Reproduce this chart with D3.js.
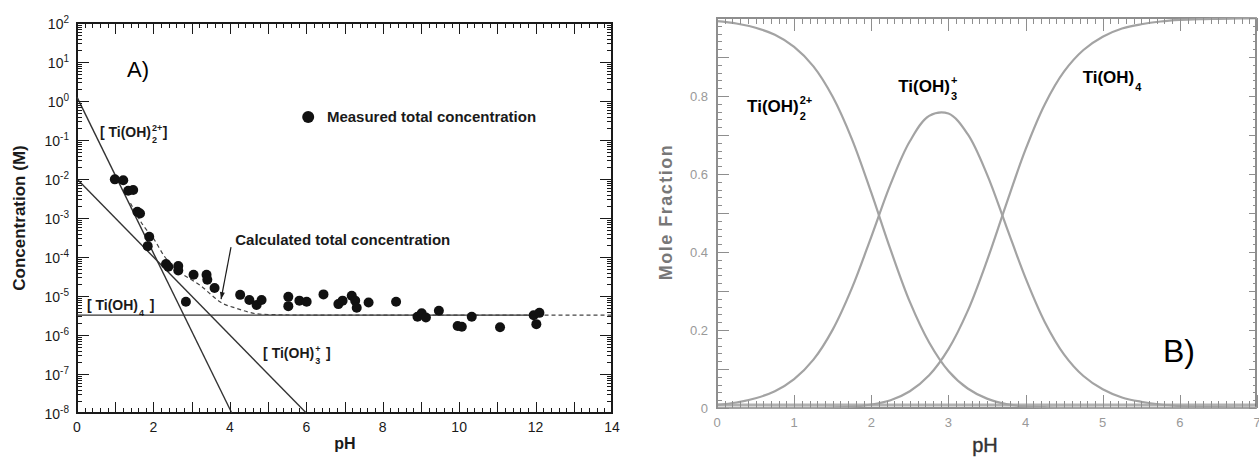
<!DOCTYPE html>
<html><head><meta charset="utf-8">
<script src="https://cdn.jsdelivr.net/npm/d3@7"></script>
<style>body{margin:0;background:#fff}svg{display:block;font-family:"Liberation Sans",Arial,sans-serif}</style>
</head><body><svg id="chart" width="1259" height="460"></svg>
<script>
// ---- panel A : measured total concentration (pH, M)
const measPh   = [0.99,1.21,1.34,1.47,1.58,1.65,1.89,1.85,2.33,2.39,2.65,2.65,3.05,3.39,3.41,3.60,2.85,4.27,4.51,4.70,4.83,
                  5.53,5.53,5.82,6.01,6.45,6.84,6.95,7.19,7.28,7.32,7.63,8.35,8.91,9.02,9.13,9.47,9.96,10.07,10.33,11.07,11.95,12.10,12.02];
const measConc = [9.8e-3,9.3e-3,5.0e-3,5.2e-3,1.45e-3,1.3e-3,3.3e-4,1.9e-4,6.6e-5,5.6e-5,5.9e-5,4.5e-5,3.5e-5,3.5e-5,2.6e-5,1.6e-5,7.1e-6,1.07e-5,7.9e-6,5.9e-6,7.9e-6,
                  9.5e-6,5.5e-6,7.6e-6,7.1e-6,1.1e-5,6.2e-6,7.6e-6,1.02e-5,7.6e-6,5.0e-6,6.8e-6,7.1e-6,2.95e-6,3.6e-6,2.8e-6,4.2e-6,1.7e-6,1.62e-6,2.95e-6,1.58e-6,3.2e-6,3.7e-6,1.9e-6];
// species lines
const ti2Ph = [0, 4.05], ti2Conc = [1.26, 1e-8];
const ti3Ph = [0, 6.0],  ti3Conc = [1e-2, 1e-8];
const ti4Ph = [0, 12.2], ti4Conc = [3.24e-6, 3.24e-6];
// calculated total concentration (dashed)
const calcPh   = [1.4, 1.74, 2.0, 2.3, 2.61, 3.0, 3.22, 3.5, 3.74, 4.18, 4.7, 5.0, 6.0, 14];
const calcConc = [2.4e-3, 6.3e-4, 3.0e-4, 1.0e-4, 4.7e-5, 2.6e-5, 1.9e-5, 1.1e-5, 7.1e-6, 4.8e-6, 3.5e-6, 3.35e-6, 3.24e-6, 3.24e-6];
const decadesA = d3.range(-8, 3);            // exponents 10^-8 .. 10^2
const xTicksA  = d3.range(0, 15, 2);

// ---- panel B : mole fractions vs pH
const phB = d3.range(0, 7.01, 0.25);
const fracTi2 = [0.992,0.986,0.975,0.957,0.926,0.876,0.798,0.689,0.552,0.406,0.272,0.168,0.095,0.050,0.024,0.010,0.004,0.002,0.0005,0.0002,0,0,0,0,0,0,0,0,0];
const fracTi3 = [0.008,0.014,0.025,0.043,0.074,0.124,0.201,0.308,0.439,0.574,0.684,0.749,0.755,0.702,0.599,0.466,0.333,0.220,0.137,0.082,0.048,0.027,0.016,0.009,0.005,0.003,0.002,0.001,0.0005];
const fracTi4 = [0,0,0,0.0001,0.0002,0.0004,0.0013,0.0035,0.009,0.020,0.043,0.084,0.151,0.249,0.378,0.523,0.663,0.779,0.863,0.918,0.952,0.973,0.984,0.991,0.995,0.997,0.998,0.999,0.9995];
const yTicksB = [0, 0.2, 0.4, 0.6, 0.8];
const xTicksB = d3.range(0, 8);

const svg = d3.select("#chart");
svg.append("rect").attr("width", 1259).attr("height", 460).attr("fill", "#fff");

// tick marks as one path: along a horizontal edge (len > 0 points down)
function ticksX(g, scale, values, y, len, color, w) {
  const d = values.map(v => `M${Math.round(scale(v)) + 0.5},${y}v${len}`).join("");
  g.append("path").attr("d", d).attr("fill", "none").attr("stroke", color)
    .attr("stroke-width", w || 1).attr("shape-rendering", "crispEdges");
}
// along a vertical edge (len > 0 points right)
function ticksY(g, scale, values, x, len, color, w) {
  const d = values.map(v => `M${x},${Math.round(scale(v)) + 0.5}h${len}`).join("");
  g.append("path").attr("d", d).attr("fill", "none").attr("stroke", color)
    .attr("stroke-width", w || 1).attr("shape-rendering", "crispEdges");
}

// species label with stacked sub/superscripts
function species(g, x, y, size, base, sub, sup, tail, color) {
  const t = g.append("text").attr("x", x).attr("y", y).attr("font-size", size)
    .attr("font-weight", "bold").attr("fill", color).text(base);
  const w = t.node().getComputedTextLength();
  const small = Math.round(size * 0.62);
  if (sub) g.append("text").attr("x", x + w + 1).attr("y", y + size * 0.45).attr("font-size", small)
    .attr("font-weight", "bold").attr("fill", color).text(sub);
  if (sup) g.append("text").attr("x", x + w + 1).attr("y", y - size * 0.45).attr("font-size", small)
    .attr("font-weight", "bold").attr("fill", color).text(sup);
  if (tail) g.append("text").attr("x", x + w + small * 1.3).attr("y", y).attr("font-size", size)
    .attr("font-weight", "bold").attr("fill", color).text(tail);
}

/////////////////////////// panel A ///////////////////////////
const xA = d3.scaleLinear().domain([0, 14]).range([77, 612]);
const yA = d3.scaleLog().domain([1e-8, 1e2]).range([413, 23]);
const A = svg.append("g");
const ink = "#1a1a1a";

A.append("rect").attr("x", 77).attr("y", 23).attr("width", 535).attr("height", 390)
  .attr("fill", "none").attr("stroke", ink).attr("stroke-width", 2);

// tick labels
A.append("g").selectAll("text").data(xTicksA).join("text")
  .attr("x", d => xA(d)).attr("y", 432).attr("text-anchor", "middle")
  .attr("font-size", 14).attr("fill", ink).text(d => d);
const yl = A.append("g").selectAll("text").data(decadesA).join("text")
  .attr("x", 69).attr("y", d => yA(Math.pow(10, d)) + 6).attr("text-anchor", "end")
  .attr("font-size", 14).attr("fill", ink);
yl.append("tspan").text("10");
yl.append("tspan").attr("dy", -6).attr("font-size", 10).text(d => d);

// axis titles
A.append("text").attr("transform", "translate(25,218) rotate(-90)").attr("text-anchor", "middle")
  .attr("font-size", 17).attr("font-weight", "bold").attr("fill", ink).text("Concentration (M)");
A.append("text").attr("x", 345).attr("y", 449).attr("text-anchor", "middle")
  .attr("font-size", 16).attr("font-weight", "bold").attr("fill", ink).text("pH");

// lines
const lineA = d3.line().x(d => xA(d[0])).y(d => yA(d[1]));
[[ti2Ph, ti2Conc], [ti3Ph, ti3Conc], [ti4Ph, ti4Conc]].forEach(([p, c]) => {
  A.append("path").attr("d", lineA(p.map((v, i) => [v, c[i]])))
    .attr("fill", "none").attr("stroke", "#333").attr("stroke-width", 1.4);
});
const calcLine = d3.line().curve(d3.curveMonotoneX).x(d => xA(d[0])).y(d => yA(d[1]));
A.append("path").attr("d", calcLine(calcPh.map((v, i) => [v, calcConc[i]])))
  .attr("fill", "none").attr("stroke", "#444").attr("stroke-width", 1.2).attr("stroke-dasharray", "4,3");

// measured points
A.append("g").selectAll("circle").data(measPh).join("circle")
  .attr("cx", d => xA(d)).attr("cy", (d, i) => yA(measConc[i])).attr("r", 5).attr("fill", "#111");

// legend
A.append("circle").attr("cx", xA(6.05)).attr("cy", yA(0.39)).attr("r", 6).attr("fill", "#111");
A.append("text").attr("x", xA(6.54)).attr("y", yA(0.29)).attr("font-size", 15).attr("font-weight", "bold")
  .attr("fill", ink).text("Measured total concentration");

// calculated label + pointer
A.append("text").attr("x", xA(4.14)).attr("y", yA(2.0e-4)).attr("font-size", 15).attr("font-weight", "bold")
  .attr("fill", ink).text("Calculated total concentration");
A.append("line").attr("x1", xA(4.03)).attr("y1", yA(1.8e-4)).attr("x2", xA(3.77)).attr("y2", yA(8.3e-6))
  .attr("stroke", ink).attr("stroke-width", 1.2);
A.append("path").attr("transform", `translate(${xA(3.77)},${yA(8.3e-6)}) rotate(11)`)
  .attr("d", "M0,0 L-2.5,-7 L2.5,-7 Z").attr("fill", ink);

species(A, xA(0.6), yA(0.12), 14, "[ Ti(OH)", "2", "2+", "]", ink);
species(A, xA(0.26), yA(4.4e-6), 14, "[ Ti(OH)", "4", null, "]", ink);
species(A, xA(4.87), yA(2.6e-7), 14, "[ Ti(OH)", "3", "+", "]", ink);

A.append("text").attr("x", xA(1.31)).attr("y", yA(4.1)).attr("font-size", 22).attr("fill", "#000").text("A)");

/////////////////////////// panel B ///////////////////////////
const xB = d3.scaleLinear().domain([0, 7]).range([717, 1257]);
const yB = d3.scaleLinear().domain([0, 1]).range([408, 18]);
const B = svg.append("g");
const grey = "#8e8e8e";

B.append("rect").attr("x", 717).attr("y", 18).attr("width", 539).attr("height", 390)
  .attr("fill", "none").attr("stroke", grey).attr("stroke-width", 2);
B.append("line").attr("x1", 717).attr("x2", 1256).attr("y1", 405).attr("y2", 405)
  .attr("stroke", "#555").attr("stroke-width", 3).attr("opacity", 0.45);

B.append("g").selectAll("text").data(xTicksB).join("text")
  .attr("x", d => xB(d)).attr("y", 427).attr("text-anchor", "middle")
  .attr("font-size", 13).attr("fill", "#999").text(d => d);
B.append("g").selectAll("text").data(yTicksB).join("text")
  .attr("x", 708).attr("y", d => yB(d) + 5).attr("text-anchor", "end")
  .attr("font-size", 13).attr("fill", "#999").text(d => d);

B.append("text").attr("transform", "translate(672,212) rotate(-90)").attr("text-anchor", "middle")
  .attr("font-size", 18).attr("font-weight", "bold").attr("letter-spacing", 1.5)
  .attr("fill", "#777").text("Mole Fraction");
B.append("text").attr("x", 985).attr("y", 452).attr("text-anchor", "middle")
  .attr("font-size", 20).attr("fill", "#333").attr("stroke", "#333").attr("stroke-width", 0.4).text("pH");

const lineB = d3.line().curve(d3.curveCatmullRom.alpha(0.5)).x(d => xB(d[0])).y(d => yB(d[1]));
[fracTi2, fracTi3, fracTi4].forEach(f => {
  B.append("path").attr("d", lineB(phB.map((p, i) => [p, f[i]])))
    .attr("fill", "none").attr("stroke", "#a3a3a3").attr("stroke-width", 2.2);
});

species(B, xB(0.39), yB(0.759), 17, "Ti(OH)", "2", "2+", null, "#000");
species(B, xB(2.35), yB(0.81), 17, "Ti(OH)", "3", "+", null, "#000");
species(B, xB(4.74), yB(0.833), 17, "Ti(OH)", "4", null, null, "#000");
B.append("text").attr("x", xB(5.78)).attr("y", yB(0.118)).attr("font-size", 32).attr("fill", "#000").text("B)");

/////////////////////////// tick marks, drawn last ///////////////////////////
const minorX = d3.range(0, 14.01, 0.2).map(v => +v.toFixed(1));
const majorX = d3.range(0, 15);
const minorY = [];
decadesA.slice(0, -1).forEach(e => { for (let k = 2; k < 10; k++) minorY.push(k * Math.pow(10, e)); });
const majorY = decadesA.map(e => Math.pow(10, e));
const TA = svg.append("g");
ticksX(TA, xA, minorX, 413, -5, ink, 1);
ticksX(TA, xA, majorX, 413, -11, ink, 1.5);
ticksX(TA, xA, minorX, 23, 5, ink, 1);
ticksX(TA, xA, majorX, 23, 11, ink, 1.5);
ticksY(TA, yA, minorY, 77, 5, ink, 1);
ticksY(TA, yA, majorY, 77, 12, ink, 1.5);
ticksY(TA, yA, minorY, 612, -5, ink, 1);
ticksY(TA, yA, majorY, 612, -12, ink, 1.5);

const minorXB = d3.range(0, 7.01, 0.1).map(v => +v.toFixed(1));
const minorYB = d3.range(0, 1.001, 0.02).map(v => +v.toFixed(2));
const midYB = d3.range(0, 1.001, 0.1).map(v => +v.toFixed(1));
const TB = svg.append("g");
ticksX(TB, xB, minorXB, 408, -7, grey, 1.5);
ticksX(TB, xB, xTicksB, 408, -13, grey, 1.5);
ticksX(TB, xB, minorXB, 18, 6, grey, 1.5);
ticksX(TB, xB, xTicksB, 18, 13, grey, 1.5);
ticksY(TB, yB, minorYB, 717, 5, grey, 1.5);
ticksY(TB, yB, midYB, 717, 12, grey, 1.5);
ticksY(TB, yB, minorYB, 1256, -3, grey, 1);
ticksY(TB, yB, midYB, 1256, -7, grey, 1.2);
</script></body></html>
